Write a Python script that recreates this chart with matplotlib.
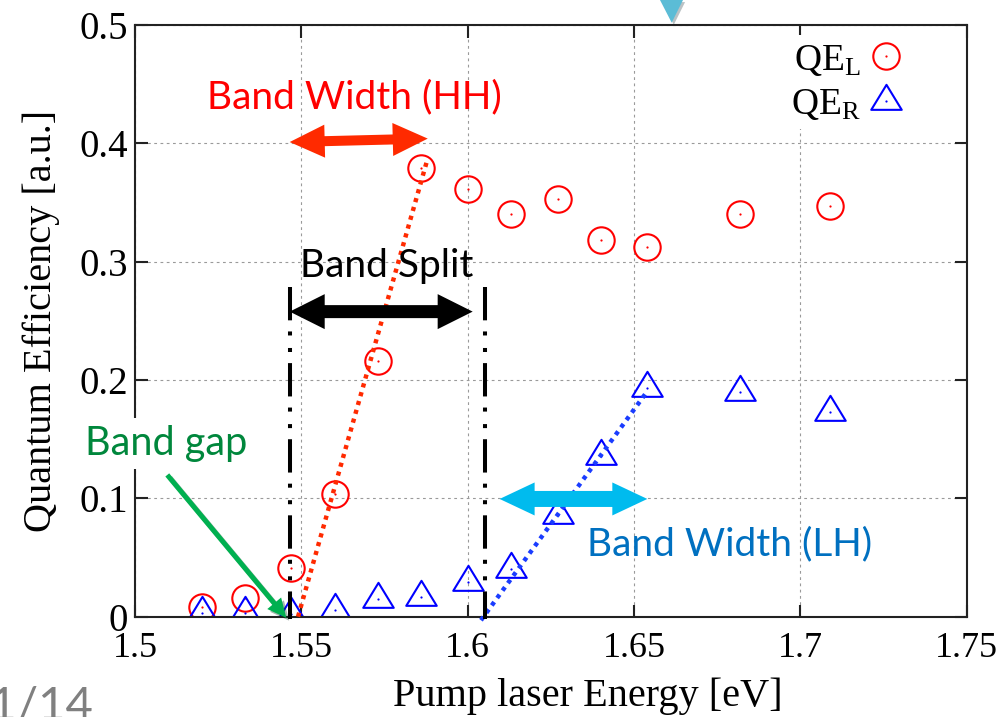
import numpy as np
import matplotlib
matplotlib.use("Agg")
import matplotlib.pyplot as plt
from matplotlib.patches import Polygon
from matplotlib.path import Path
from matplotlib.transforms import IdentityTransform
from matplotlib.lines import Line2D
from matplotlib.legend_handler import HandlerTuple
import matplotlib.patheffects as pe

# ---- data ---------------------------------------------------------------
energy = [1.520, 1.533, 1.547, 1.560, 1.573, 1.586, 1.600,
          1.613, 1.627, 1.640, 1.654, 1.682, 1.709]
qe_left = [0.0085, 0.0155, 0.041, 0.104, 0.216, 0.379, 0.361,
           0.340, 0.353, 0.318, 0.312, 0.340, 0.347]
qe_right = [0.003, 0.003, 0.002, 0.006, 0.0147, 0.017, 0.0296,
            0.040, 0.086, 0.136, 0.193, 0.190, 0.173]

# linear fits of the absorption edges
hh_fit_e = [1.549, 1.588]
hh_fit_qe = [0.0, 0.3875]
lh_fit_e = [1.604, 1.6536]
lh_fit_qe = [-0.003, 0.189]

# band edges (dash-dot markers)
edge_e = [1.5466, 1.6051]
edge_top = 0.279

x_ticks = [1.5, 1.55, 1.6, 1.65, 1.7, 1.75]
x_tick_labels = ["1.5", "1.55", "1.6", "1.65", "1.7", "1.75"]
y_ticks = [0, 0.1, 0.2, 0.3, 0.4, 0.5]
y_tick_labels = ["0", "0.1", "0.2", "0.3", "0.4", "0.5"]

# ---- style --------------------------------------------------------------
plt.rcParams["font.family"] = ["Liberation Serif", "DejaVu Serif"]
plt.rcParams["mathtext.fontset"] = "custom"
plt.rcParams["mathtext.rm"] = "Liberation Serif"
plt.rcParams["mathtext.it"] = "Liberation Serif:italic"
plt.rcParams["lines.scale_dashes"] = False

ANNOT_FONT = ["Lato", "DejaVu Sans"]

fig = plt.figure(figsize=(9.99, 7.17), dpi=100)
ax = fig.add_axes([135 / 999, 1 - 616.7 / 717, (966.7 - 135) / 999, (616.7 - 25) / 717])

ax.set_xlim(1.5, 1.75)
ax.set_ylim(0, 0.5)
ax.set_xticks(x_ticks)
ax.set_xticklabels(x_tick_labels)
ax.set_yticks(y_ticks)
ax.set_yticklabels(y_tick_labels)
ax.tick_params(direction="in", length=9, width=1.5, top=True, right=True,
               color="#222222")
ax.tick_params(axis="x", pad=11, labelsize=26)
ax.tick_params(axis="y", pad=5, labelsize=28)
for s in ax.spines.values():
    s.set_linewidth(1.5)
    s.set_color("#222222")
ax.grid(True, color="#9a9a9a", linestyle=(0, (2, 2.5)), linewidth=0.8)
ax.set_axisbelow(True)

ax.set_xlabel("Pump laser Energy [eV]", fontsize=29, labelpad=12)
ax.xaxis.set_label_coords(0.5447, -0.102)
ax.set_ylabel("Quantum Efficiency [a.u.]", fontsize=29, labelpad=14)

# ---- markers ------------------------------------------------------------
tri = Path([(0, 1.093), (-1, -0.547), (1, -0.547), (0, 1.093)],
           [Path.MOVETO, Path.LINETO, Path.LINETO, Path.CLOSEPOLY])
ax.plot(energy, qe_left, ls="none", marker="o", ms=19, mfc="none",
        mec="#ff0000", mew=1.5, zorder=2)
ax.plot(energy, qe_left, ls="none", marker="o", ms=1.6, mfc="#ff0000",
        mec="none", zorder=2)
ax.plot(energy, qe_right, ls="none", marker=tri, ms=24, mfc="none",
        mec="#0000ff", mew=1.5, zorder=2)
ax.plot(energy, qe_right, ls="none", marker="o", ms=1.6, mfc="#0000ff",
        mec="none", zorder=2)

# ---- fit lines and band edges -------------------------------------------
ax.plot(hh_fit_e, hh_fit_qe, color="#ff2a00", lw=3.2,
        dashes=(3.0, 3.6), dash_capstyle="butt", zorder=3, clip_on=False)
ax.plot(lh_fit_e, lh_fit_qe, color="#1a3cff", lw=3.2,
        dashes=(3.0, 3.6), dash_capstyle="butt", zorder=3, clip_on=False)
for e in edge_e:
    ax.plot([e, e], [edge_top, -0.002], color="black", lw=2.9,
            dashes=(24, 8, 2.9, 9, 2.9, 8), dash_capstyle="butt",
            zorder=3, clip_on=False)

# ---- block arrows (sizes in pixels) ------------------------------------
def block_arrow(p0, p1, shaft, head_w, head_len, color, both=True,
                shadow=False, z=4):
    (x0, y0), (x1, y1) = ax.transData.transform([p0, p1])
    d = np.array([x1 - x0, y1 - y0])
    u = d / np.hypot(*d)
    n = np.array([-u[1], u[0]])
    a = np.array([x0, y0])
    b = np.array([x1, y1])
    b_base = b - u * head_len
    if both:
        a_base = a + u * head_len
        verts = [a, a_base + n * head_w / 2, a_base + n * shaft / 2,
                 b_base + n * shaft / 2, b_base + n * head_w / 2, b,
                 b_base - n * head_w / 2, b_base - n * shaft / 2,
                 a_base - n * shaft / 2, a_base - n * head_w / 2]
    else:
        verts = [a + n * shaft / 2, b_base + n * shaft / 2,
                 b_base + n * head_w / 2, b, b_base - n * head_w / 2,
                 b_base - n * shaft / 2, a - n * shaft / 2]
    poly = Polygon(verts, closed=True, facecolor=color, edgecolor="none",
                   transform=IdentityTransform(), zorder=z, clip_on=False)
    if shadow:
        poly.set_path_effects([pe.SimplePatchShadow(offset=(2, -2),
                                                     alpha=0.35),
                               pe.Normal()])
    ax.add_patch(poly)

block_arrow((1.5465, 0.4011), (1.588, 0.404), 10, 33, 35, "#ff2a00")
block_arrow((1.5465, 0.2578), (1.6015, 0.2578), 13, 35, 35, "black")
block_arrow((1.6096, 0.0995), (1.654, 0.0995), 16, 33, 35, "#00bbee")
block_arrow((1.5097, 0.1198), (1.5455, -0.001), 5, 18, 19, "#00b050",
            both=False, shadow=True, z=6)

# ---- annotation labels --------------------------------------------------
ax.text(1.5658, 0.4298, "Band Width (HH)", color="#ff0000", fontsize=28,
        family=ANNOT_FONT, ha="center", va="baseline", zorder=5)
ax.text(1.5757, 0.2874, "Band Split", color="black", fontsize=28,
        family=ANNOT_FONT, ha="center", va="baseline", zorder=5)
ax.text(1.6786, 0.0522, "Band Width (LH)", color="#0070c0", fontsize=28,
        family=ANNOT_FONT, ha="center", va="baseline", zorder=5)
ax.text(1.5093, 0.1367, "Band gap", color="#00873c", fontsize=28.5,
        family=ANNOT_FONT, ha="center", va="baseline", zorder=5,
        clip_on=False,
        bbox=dict(facecolor="white", edgecolor="none", pad=5))

# ---- legend -------------------------------------------------------------
h_l = (Line2D([], [], ls="none", marker="o", ms=19, mfc="none",
              mec="#ff0000", mew=1.5),
       Line2D([], [], ls="none", marker="o", ms=1.6, mfc="#ff0000",
              mec="none"))
h_r = (Line2D([], [], ls="none", marker=tri, ms=24, mfc="none",
              mec="#0000ff", mew=1.5),
       Line2D([], [], ls="none", marker="o", ms=1.6, mfc="#0000ff",
              mec="none"))
leg = ax.legend([h_l, h_r], [r"$\mathrm{QE}_{\mathrm{L}}$",
                             r"$\mathrm{QE}_{\mathrm{R}}$"],
                handler_map={tuple: HandlerTuple(ndivide=1, pad=0)},
                loc="upper right", bbox_to_anchor=(0.932, 0.983),
                markerfirst=False, fontsize=27, frameon=True,
                facecolor="white", edgecolor="none", framealpha=1,
                fancybox=False, handlelength=0.9, handletextpad=0.22,
                labelspacing=0.25, borderpad=0.2, borderaxespad=0)

# ---- slide decorations --------------------------------------------------
fig.text(93 / 999, -3 / 717, "11/14", color="#808080", fontsize=34,
         family=ANNOT_FONT, ha="right", va="baseline")
marker_tri = Polygon([(660 / 999, 1.0), (683 / 999, 1.0),
                      (671.7 / 999, 1 - 22.7 / 717)], closed=True,
                     facecolor="#5bbcd6", edgecolor="none",
                     transform=fig.transFigure, zorder=10)
marker_tri.set_path_effects([pe.SimplePatchShadow(offset=(1.5, -1.5),
                                                  alpha=0.3), pe.Normal()])
fig.patches.append(marker_tri)

fig.savefig("out.png", dpi=100)
